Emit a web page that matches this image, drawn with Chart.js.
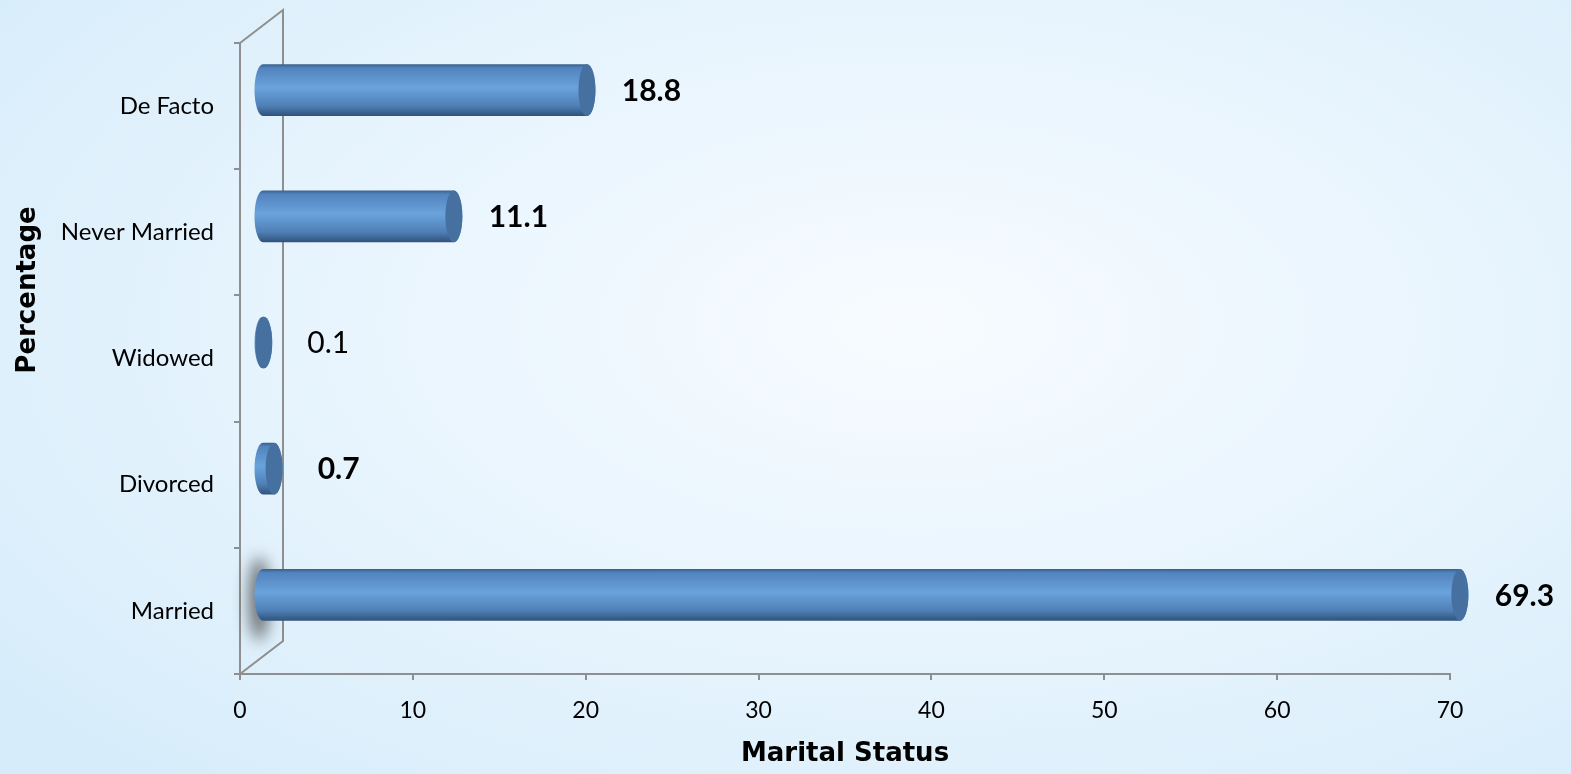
<!DOCTYPE html>
<html>
<head>
<meta charset="utf-8">
<title>Marital Status</title>
<script src="https://cdn.jsdelivr.net/npm/chart.js@4.4.1/dist/chart.umd.min.js"></script>
<style>
    html, body { margin: 0; padding: 0; }
    body {
        width: 1571px;
        height: 774px;
        overflow: hidden;
        background: radial-gradient(ellipse 75% 80% at 58% 42%, #f7fbff 0%, #ebf6fe 40%, #d6ecfa 100%);
    }
    #wrap { position: relative; width: 1571px; height: 774px; }
</style>
</head>
<body>
<div id="wrap"><canvas id="maritalChart"></canvas></div>
<script>
// Datos
const categories = ['De Facto', 'Never Married', 'Widowed', 'Divorced', 'Married'];
const percentages = [18.8, 11.1, 0.1, 0.7, 69.3];
const axisMin = 0;
const axisMax = 70;
const axisStep = 10;

// Estilo de las etiquetas (0.1 sale sin negrita en el original)
const labelBold = [true, true, false, true, true];

const axisGray = '#8f8f8f';
const depthX = 22, depthY = -16;   // mitad de la profundidad 3D
const wallX = 43, wallY = -33;     // pared del fondo

// Cilindros, pared 3D y etiquetas
const cylinderPlugin = {
    id: 'cylinders',
    beforeDatasetsDraw(chart) {
        const { ctx, chartArea } = chart;
        const { left, top, bottom } = chartArea;
        ctx.save();
        ctx.strokeStyle = axisGray;
        ctx.lineWidth = 2;
        ctx.beginPath();
        ctx.moveTo(left, top);
        ctx.lineTo(left + wallX, top + wallY);
        ctx.lineTo(left + wallX, bottom + wallY);
        ctx.lineTo(left, bottom);
        ctx.stroke();

        // sombra detras del ultimo cilindro
        const meta = chart.getDatasetMeta(0);
        const last = meta.data[meta.data.length - 1];
        if (last) {
            ctx.filter = 'blur(8px)';
            ctx.fillStyle = 'rgba(60,60,60,0.75)';
            ctx.beginPath();
            ctx.ellipse(last.base + depthX - 4, last.y + depthY + 4, 10, last.height / 2 + 16, 0, 0, Math.PI * 2);
            ctx.fill();
            ctx.filter = 'none';
        }
        ctx.restore();
    },
    afterDatasetsDraw(chart) {
        const { ctx } = chart;
        const meta = chart.getDatasetMeta(0);
        ctx.save();
        meta.data.forEach((bar, i) => {
            const x0 = bar.base + depthX;
            const x1 = bar.x + depthX;
            const cy = bar.y + depthY;
            const r = bar.height / 2;
            const rx = 8.5;

            const grad = ctx.createLinearGradient(0, cy - r, 0, cy + r);
            grad.addColorStop(0, '#375f8c');
            grad.addColorStop(0.07, '#5283bd');
            grad.addColorStop(0.45, '#6aa3dc');
            grad.addColorStop(0.8, '#4f80b6');
            grad.addColorStop(1, '#30527b');

            ctx.fillStyle = grad;
            ctx.beginPath();
            ctx.moveTo(x0, cy - r);
            ctx.lineTo(x1, cy - r);
            ctx.ellipse(x1, cy, rx, r, 0, -Math.PI / 2, Math.PI / 2);
            ctx.lineTo(x0, cy + r);
            ctx.ellipse(x0, cy, rx, r, 0, Math.PI / 2, Math.PI * 1.5);
            ctx.closePath();
            ctx.fill();

            // tapa
            ctx.fillStyle = '#45709f';
            ctx.beginPath();
            ctx.ellipse(x1, cy, rx, r, 0, 0, Math.PI * 2);
            ctx.fill();

            // etiqueta
            ctx.fillStyle = '#000';
            ctx.font = (labelBold[i] ? 'bold ' : '') + '30px Lato, "DejaVu Sans", sans-serif';
            ctx.textAlign = 'center';
            ctx.textBaseline = 'middle';
            ctx.fillText(String(percentages[i]), x1 + rx + 56, cy + 1);
        });

        // titulo del eje vertical
        ctx.translate(28, 290);
        ctx.rotate(-Math.PI / 2);
        ctx.font = 'bold 26px "DejaVu Sans", sans-serif';
        ctx.fillStyle = '#000';
        ctx.textAlign = 'center';
        ctx.textBaseline = 'middle';
        ctx.fillText('Percentage', 0, 0);
        ctx.restore();
    }
};

document.addEventListener('DOMContentLoaded', function() {
    const ctx = document.getElementById('maritalChart').getContext('2d');
    new Chart(ctx, {
        type: 'bar',
        data: {
            labels: categories,
            datasets: [{
                label: 'Marital Status',
                data: percentages,
                backgroundColor: 'rgba(0,0,0,0)',
                borderWidth: 0,
                categoryPercentage: 1,
                barPercentage: 0.41
            }]
        },
        options: {
            indexAxis: 'y',
            responsive: true,
            maintainAspectRatio: false,
            animation: false,
            events: [],
            layout: { padding: { top: 43, right: 121, left: 0, bottom: 0 } },
            scales: {
                x: {
                    min: axisMin,
                    max: axisMax,
                    ticks: {
                        stepSize: axisStep,
                        color: '#000',
                        padding: 17,
                        font: { family: 'Lato, "DejaVu Sans", sans-serif', size: 23 }
                    },
                    grid: { drawOnChartArea: false, color: axisGray, lineWidth: 2, tickLength: 6 },
                    border: { color: axisGray, width: 2 },
                    title: {
                        display: true,
                        text: 'Marital Status',
                        color: '#000',
                        padding: { top: 0, bottom: 4 },
                        font: { family: '"DejaVu Sans", sans-serif', size: 26, weight: 'bold' }
                    },
                    afterFit(scale) { scale.height = 100; }
                },
                y: {
                    ticks: {
                        color: '#000',
                        padding: 20,
                        font: { family: 'Lato, "DejaVu Sans", sans-serif', size: 24 }
                    },
                    grid: { drawOnChartArea: false, offset: true, color: axisGray, lineWidth: 2, tickLength: 6 },
                    border: { color: axisGray, width: 2 },
                    afterFit(scale) { scale.width = 240; }
                }
            },
            plugins: {
                legend: { display: false },
                tooltip: { enabled: false }
            }
        },
        plugins: [cylinderPlugin]
    });
});
</script>
</body>
</html>
